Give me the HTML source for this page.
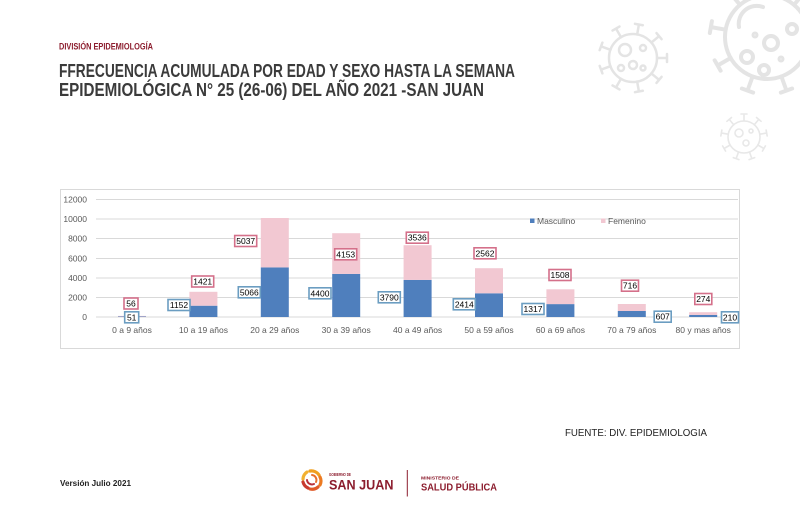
<!DOCTYPE html>
<html><head><meta charset="utf-8"><style>
html,body{margin:0;padding:0;background:#fff;width:800px;height:525px;overflow:hidden}
svg{display:block}
</style></head><body>
<svg width="800" height="525" viewBox="0 0 800 525" xmlns="http://www.w3.org/2000/svg" font-family="Liberation Sans, sans-serif">
<defs>
<g id="spL"><line x1="0" y1="-42" x2="0" y2="-56" /><line x1="-6" y1="-57" x2="6" y2="-57"/></g>
<g id="spM"><line x1="0" y1="-24" x2="0" y2="-33" /><line x1="-4" y1="-34" x2="4" y2="-34"/></g>
<g id="spS"><line x1="0" y1="-16" x2="0" y2="-22" /><line x1="-3" y1="-23" x2="3" y2="-23"/></g>
</defs>
<rect width="800" height="525" fill="#fff"/>
<!-- virus decorations -->
<g fill="none" stroke="#e4e4e4" stroke-width="4" stroke-linecap="round" transform="translate(767,37)">
<circle r="42"/>
<use href="#spL" transform="rotate(0)"/><use href="#spL" transform="rotate(40)"/><use href="#spL" transform="rotate(80)"/><use href="#spL" transform="rotate(120)"/><use href="#spL" transform="rotate(160)"/><use href="#spL" transform="rotate(200)"/><use href="#spL" transform="rotate(240)"/><use href="#spL" transform="rotate(280)"/><use href="#spL" transform="rotate(320)"/>
<path d="M -28 -10 A 18 18 0 0 1 -4 -30"/>
<circle cx="-20" cy="20" r="6"/><circle cx="4" cy="6" r="7"/><circle cx="-3" cy="33" r="5"/><circle cx="25" cy="-8" r="5"/>
<circle cx="-12" cy="-2" r="1.5"/><circle cx="14" cy="22" r="1.5"/>
</g>
<g fill="none" stroke="#e4e4e4" stroke-width="2.5" stroke-linecap="round" transform="translate(633,58)">
<circle r="24"/>
<use href="#spM" transform="rotate(10)"/><use href="#spM" transform="rotate(50)"/><use href="#spM" transform="rotate(90)"/><use href="#spM" transform="rotate(130)"/><use href="#spM" transform="rotate(170)"/><use href="#spM" transform="rotate(210)"/><use href="#spM" transform="rotate(250)"/><use href="#spM" transform="rotate(290)"/><use href="#spM" transform="rotate(330)"/>
<circle cx="-8" cy="-8" r="6"/><circle cx="0" cy="7" r="4"/><circle cx="10" cy="-10" r="3"/><circle cx="-12" cy="10" r="3"/><circle cx="10" cy="10" r="2.5"/>
</g>
<g fill="none" stroke="#e8e8e8" stroke-width="1.6" stroke-linecap="round" transform="translate(744,137)">
<circle r="16"/>
<use href="#spS" transform="rotate(0)"/><use href="#spS" transform="rotate(40)"/><use href="#spS" transform="rotate(80)"/><use href="#spS" transform="rotate(120)"/><use href="#spS" transform="rotate(160)"/><use href="#spS" transform="rotate(200)"/><use href="#spS" transform="rotate(240)"/><use href="#spS" transform="rotate(280)"/><use href="#spS" transform="rotate(320)"/>
<circle cx="-5" cy="-4" r="4"/><circle cx="2" cy="6" r="3"/><circle cx="7" cy="-6" r="2"/>
</g>

<!-- header -->
<text x="59" y="49.5" font-size="9.5" font-weight="bold" fill="#8c1d2e" textLength="94" lengthAdjust="spacingAndGlyphs">DIVISIÓN EPIDEMIOLOGÍA</text>
<text x="59" y="77" font-size="18" font-weight="bold" fill="#3b3b3b" textLength="456" lengthAdjust="spacingAndGlyphs">FFRECUENCIA ACUMULADA POR EDAD Y SEXO HASTA LA SEMANA</text>
<text x="59" y="96" font-size="18" font-weight="bold" fill="#3b3b3b" textLength="425" lengthAdjust="spacingAndGlyphs">EPIDEMIOLÓGICA N° 25 (26-06) DEL AÑO 2021 -SAN JUAN</text>

<!-- chart box -->
<rect x="60.5" y="189.5" width="679" height="159" fill="#fff" stroke="#d9d9d9" stroke-width="1"/>
<g stroke="#d9d9d9" stroke-width="1">
<line x1="96" y1="199.5" x2="738" y2="199.5"/>
<line x1="96" y1="219" x2="738" y2="219"/>
<line x1="96" y1="238.5" x2="738" y2="238.5"/>
<line x1="96" y1="258.5" x2="738" y2="258.5"/>
<line x1="96" y1="278" x2="738" y2="278"/>
<line x1="96" y1="297.5" x2="738" y2="297.5"/>
<line x1="96" y1="317" x2="738" y2="317"/>
</g>
<g font-size="8.5" fill="#595959" text-anchor="end">
<text x="87" y="202.5">12000</text>
<text x="87" y="222">10000</text>
<text x="87" y="241.5">8000</text>
<text x="87" y="261.5">6000</text>
<text x="87" y="281">4000</text>
<text x="87" y="300.5">2000</text>
<text x="87" y="320">0</text>
</g>

<!-- bars: male -->
<g fill="#4f7fbd">
<rect x="118" y="316.5" width="28" height="0.5"/>
<rect x="189.4" y="305.7" width="28" height="11.3"/>
<rect x="260.8" y="267.4" width="28" height="49.6"/>
<rect x="332.2" y="273.9" width="28" height="43.1"/>
<rect x="403.6" y="279.9" width="28" height="37.1"/>
<rect x="475" y="293.3" width="28" height="23.7"/>
<rect x="546.4" y="304.1" width="28" height="12.9"/>
<rect x="617.8" y="311" width="28" height="6"/>
<rect x="689.2" y="314.9" width="28" height="2.1"/>
</g>
<g fill="#f2c8d2">
<rect x="118" y="315.9" width="28" height="0.6"/>
<rect x="189.4" y="291.8" width="28" height="13.9"/>
<rect x="260.8" y="218" width="28" height="49.4"/>
<rect x="332.2" y="233.2" width="28" height="40.7"/>
<rect x="403.6" y="245.2" width="28" height="34.7"/>
<rect x="475" y="268.2" width="28" height="25.1"/>
<rect x="546.4" y="289.3" width="28" height="14.8"/>
<rect x="617.8" y="304" width="28" height="7"/>
<rect x="689.2" y="312.2" width="28" height="2.7"/>
</g>

<!-- category labels -->
<g font-size="8.5" fill="#595959" text-anchor="middle">
<text x="132" y="333">0 a 9 años</text>
<text x="203.4" y="333">10 a 19 años</text>
<text x="274.8" y="333">20 a 29 años</text>
<text x="346.2" y="333">30 a 39 años</text>
<text x="417.6" y="333">40 a 49 años</text>
<text x="489" y="333">50 a 59 años</text>
<text x="560.4" y="333">60 a 69 años</text>
<text x="631.8" y="333">70 a 79 años</text>
<text x="703.2" y="333">80 y mas años</text>
</g>

<!-- legend -->
<rect x="530" y="218.5" width="4.5" height="4.5" fill="#4f7fbd"/>
<text x="537" y="224" font-size="8.5" fill="#595959">Masculino</text>
<rect x="601" y="218.5" width="4.5" height="4.5" fill="#f2c8d2"/>
<text x="608" y="224" font-size="8.5" fill="#595959">Femenino</text>

<!-- female labels -->
<g fill="#fff" stroke="#d4708a" stroke-width="1.6">
<rect x="124" y="298" width="14" height="11"/>
<rect x="191.7" y="276" width="22" height="11"/>
<rect x="234.7" y="235.5" width="22" height="11"/>
<rect x="334.7" y="248.8" width="22" height="11"/>
<rect x="406.3" y="232.2" width="22" height="11"/>
<rect x="474" y="247.8" width="22" height="11"/>
<rect x="549" y="269.5" width="22" height="11"/>
<rect x="621.5" y="280.2" width="17" height="11"/>
<rect x="694.8" y="293.5" width="17" height="11"/>
</g>
<g font-size="8.5" fill="#000" text-anchor="middle">
<text x="131" y="306.5">56</text>
<text x="202.7" y="284.5">1421</text>
<text x="245.7" y="244">5037</text>
<text x="345.7" y="257.3">4153</text>
<text x="417.3" y="240.7">3536</text>
<text x="485" y="256.3">2562</text>
<text x="560" y="278">1508</text>
<text x="630" y="288.7">716</text>
<text x="703.3" y="302">274</text>
</g>
<!-- male labels -->
<g fill="#fff" stroke="#6b9dc1" stroke-width="1.6">
<rect x="124.7" y="311.8" width="14" height="11"/>
<rect x="168" y="299.5" width="22" height="11"/>
<rect x="238.3" y="286.8" width="22" height="11"/>
<rect x="309" y="287.8" width="22" height="11"/>
<rect x="378.3" y="291.8" width="22" height="11"/>
<rect x="453.3" y="298.8" width="22" height="11"/>
<rect x="522" y="303.5" width="22" height="11"/>
<rect x="654.2" y="311.2" width="17" height="11"/>
<rect x="721.5" y="311.8" width="17" height="11"/>
</g>
<g font-size="8.5" fill="#000" text-anchor="middle">
<text x="131.7" y="320.3">51</text>
<text x="179" y="308">1152</text>
<text x="249.3" y="295.3">5066</text>
<text x="320" y="296.3">4400</text>
<text x="389.3" y="300.3">3790</text>
<text x="464.3" y="307.3">2414</text>
<text x="533" y="312">1317</text>
<text x="662.7" y="319.7">607</text>
<text x="730" y="320.3">210</text>
</g>

<!-- footer -->
<text x="565" y="436" font-size="10.5" fill="#222" textLength="142" lengthAdjust="spacingAndGlyphs">FUENTE: DIV. EPIDEMIOLOGIA</text>
<text x="60" y="486" font-size="8.5" font-weight="bold" fill="#222" textLength="71" lengthAdjust="spacingAndGlyphs">Versión Julio 2021</text>

<!-- logo -->
<g transform="translate(312,480)" fill="none" stroke-width="3.2" stroke-linecap="round">
<path d="M -2 -9 A 9 9 0 0 1 7 -5" stroke="#f0a020"/>
<path d="M 8 -3 A 9 9 0 0 1 8 5" stroke="#ec7a22"/>
<path d="M 6 7 A 9 9 0 0 1 -2 9" stroke="#e05a28"/>
<path d="M -4 8 A 9 9 0 0 1 -9 2" stroke="#c83a30"/>
<path d="M -9 -1 A 9 9 0 0 1 -5 -8" stroke="#f2b030"/>
<path d="M 0 -5 A 5 5 0 0 1 4 2" stroke="#e8702a" stroke-width="2"/>
<path d="M 2 4 A 5 5 0 0 1 -5 0" stroke="#b8303a" stroke-width="2"/>
</g>
<text x="329" y="476" font-size="4.5" font-weight="bold" fill="#8c1d2e" textLength="22" lengthAdjust="spacingAndGlyphs">GOBIERNO DE</text>
<text x="329" y="489.5" font-size="14" font-weight="bold" fill="#8c1d2e" textLength="64.5" lengthAdjust="spacingAndGlyphs">SAN JUAN</text>
<line x1="407.3" y1="470" x2="407.3" y2="496.5" stroke="#8c1d2e" stroke-width="1"/>
<text x="421" y="479.7" font-size="4.5" font-weight="bold" fill="#8c1d2e" textLength="38" lengthAdjust="spacingAndGlyphs">MINISTERIO DE</text>
<text x="421" y="490.7" font-size="10.5" font-weight="bold" fill="#8c1d2e" textLength="76" lengthAdjust="spacingAndGlyphs">SALUD PÚBLICA</text>
</svg>
</body></html>
